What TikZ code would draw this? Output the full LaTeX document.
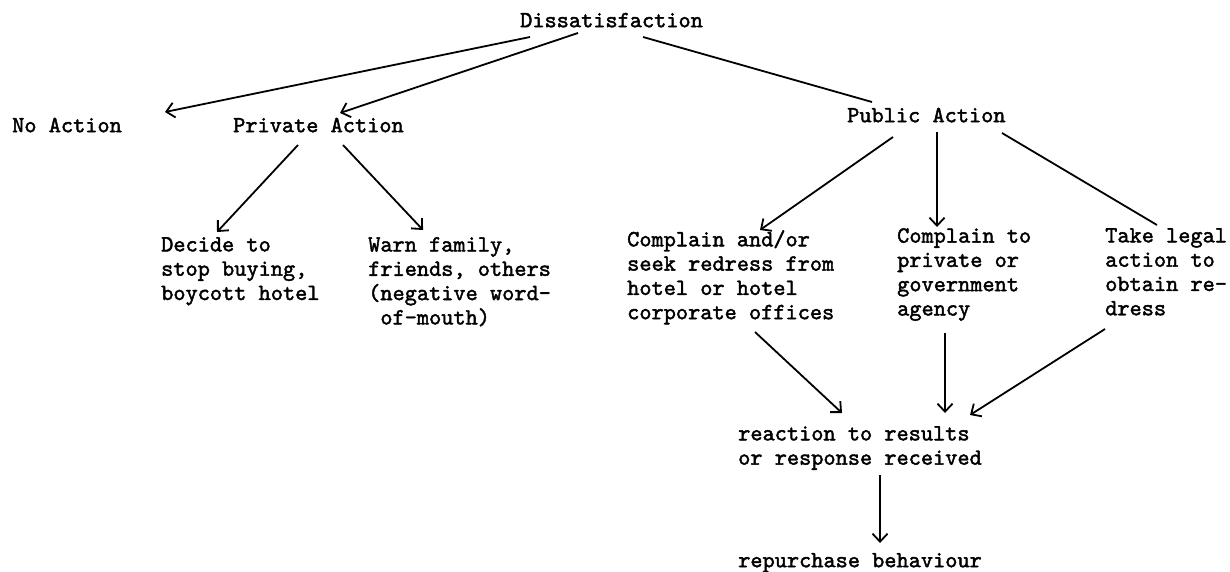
\documentclass[tikz,border=0pt]{standalone}
\usepackage{fontspec}
\newfontfamily\tw{lmmono10-regular.otf}[FakeBold=1.8]
\usetikzlibrary{arrows.meta}
\begin{document}
\begin{tikzpicture}[x=1pt,y=-1pt,
  txt/.style={anchor=north west,inner sep=0pt,align=left,
    font=\tw\fontsize{23.2}{24.3}\selectfont,execute at begin node=\strut},
  ln/.style={line width=1.8pt},
  arr/.style={ln,-{Straight Barb[length=8pt,width=15pt,line width=1.8pt]}}]
\useasboundingbox (0,0) rectangle (1230,571);
\node[txt] (dis) at (520,10) {Dissatisfaction};
\node[txt] (no) at (12,115) {No Action};
\node[txt] (priv) at (233,115) {Private Action};
\node[txt] (pub) at (847,105) {Public Action};
\node[txt] (dec) at (161,237) {Decide to\\stop buying,\\boycott hotel};
\node[txt] (warn) at (368,237) {Warn family,\\friends, others\\(negative word-\\\ of-mouth)};
\node[txt] (comp) at (627,230) {Complain and/or\\seek redress from\\hotel or hotel\\corporate offices};
\node[txt] (agen) at (897,228) {Complain to\\private or\\government\\agency};
\node[txt] (legal) at (1105,228) {Take legal\\action to\\obtain re-\\dress};
\node[txt] (reac) at (738,426) {reaction to results\\or response received};
\node[txt] (rep) at (738,550) {repurchase behaviour};
% connectors (offsets relative to the north west corners)
\draw[arr] ([shift={(10,27)}]dis.north west) -- ([shift={(153,-3)}]no.north west);
\draw[arr] ([shift={(58,23)}]dis.north west) -- ([shift={(107,-2)}]priv.north west);
\draw[ln] ([shift={(123,27)}]dis.north west) -- ([shift={(25,-3)}]pub.north west);
\draw[arr] ([shift={(65,30)}]priv.north west) -- ([shift={(56,-5)}]dec.north west);
\draw[arr] ([shift={(110,30)}]priv.north west) -- ([shift={(55,-7)}]warn.north west);
\draw[arr] ([shift={(46,32)}]pub.north west) -- ([shift={(133,0)}]comp.north west);
\draw[arr] ([shift={(90,27)}]pub.north west) -- ([shift={(40,-1)}]agen.north west);
\draw[ln] ([shift={(155,28)}]pub.north west) -- ([shift={(52,-3)}]legal.north west);
\draw[arr] ([shift={(128,102)}]comp.north west) -- ([shift={(104,-13)}]reac.north west);
\draw[arr] ([shift={(48,105)}]agen.north west) -- ([shift={(207,-13)}]reac.north west);
\draw[arr] ([shift={(0,101)}]legal.north west) -- ([shift={(232,-11)}]reac.north west);
\draw[arr] ([shift={(142,49)}]reac.north west) -- ([shift={(142,-7)}]rep.north west);
\end{tikzpicture}
\end{document}
